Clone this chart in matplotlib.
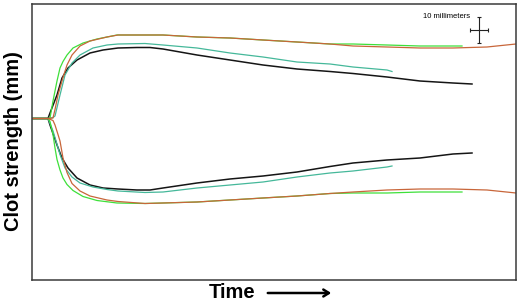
import matplotlib
matplotlib.use('Agg')
import matplotlib.pyplot as plt
from matplotlib.patches import FancyArrowPatch

# TEG tracings: time (arbitrary units), upper / lower amplitude (arbitrary units)
black_t = [1, 16, 18, 25, 30, 36, 45, 58, 71, 86, 105, 118, 131, 165, 198, 231, 265, 298, 321, 355, 388, 421, 440]
black_up = [0, 0, 5.5, 23.5, 40.5, 50.5, 58.5, 65.5, 68.5, 70.5, 71, 71, 69.5, 63.5, 58.5, 53.5, 49.5, 47, 45, 41.5, 37.5, 35.5, 34.5]
black_lo = [0, 0, -6.5, -26.5, -39.5, -49.5, -59.5, -66.5, -69.5, -70.5, -71.5, -71.5, -69.5, -64.5, -60.5, -57.5, -53.5, -48, -44.5, -41.5, -39.5, -35.5, -34.5]

teal_t = [1, 16, 21, 23, 28, 33, 40, 48, 61, 75, 86, 113, 131, 165, 198, 231, 265, 298, 321, 355, 360]
teal_up = [0, 0, 1, 2.5, 23.5, 43.5, 55.5, 63.5, 70.5, 73.5, 74.5, 75, 73.5, 70.5, 65.5, 61.5, 56.5, 54.5, 51.5, 48.5, 47]
teal_lo = [0, 0, -12.5, -19, -36, -49.5, -58.5, -64.5, -68.5, -71, -72.5, -74, -73.5, -69.5, -66.5, -63.5, -58.5, -54.5, -52.5, -48.5, -47.5]

green_t = [1, 16, 18, 21, 23, 25, 28, 31, 35, 41, 51, 65, 85, 113, 131, 165, 198, 231, 265, 298, 321, 355, 388, 430]
green_up = [0, 0, 0.5, 17.5, 27.5, 37.5, 50.5, 57, 63.5, 70.5, 75.5, 79.5, 83.5, 83.5, 83.5, 81.5, 80.5, 78.5, 76.5, 74.5, 74.5, 73.5, 72.5, 72.5]
green_lo = [0, 0, -3, -16, -29.5, -41, -51.5, -59.5, -66, -72, -78, -82, -84.5, -85, -84.5, -83.5, -81.5, -79.5, -77.5, -75, -74.5, -74.5, -73.5, -73.5]

orange_t = [1, 16, 21, 23, 26, 28, 31, 35, 40, 48, 58, 75, 86, 113, 131, 165, 198, 231, 265, 298, 321, 355, 388, 421, 455, 484]
orange_up = [0, 0, 0.5, 9, 23.5, 30.5, 41, 53.5, 63.5, 72.5, 77.5, 81.5, 83.5, 83.5, 83.5, 81.5, 80.5, 78.5, 76.5, 74.5, 72.5, 71.5, 70.5, 70.5, 71.5, 74.5]
orange_lo = [0, 0, -2, -6.5, -16, -22.5, -39.5, -54, -65, -72.5, -77.5, -81.5, -83, -85, -84.5, -83.5, -81.5, -79.5, -77.5, -75, -73.5, -71.5, -70.5, -70.5, -71.5, -74.5]

fig = plt.figure(figsize=(5.2, 3.04), dpi=100)
ax = fig.add_axes([32 / 520, 24 / 304, 484 / 520, 276 / 304])

ax.plot(black_t, black_up, color='#151515', lw=1.1)
ax.plot(black_t, black_lo, color='#151515', lw=1.1)
ax.plot(teal_t, teal_up, color='#45b89a', lw=0.9)
ax.plot(teal_t, teal_lo, color='#45b89a', lw=0.9)
ax.plot(green_t, green_up, color='#3ee03a', lw=0.9)
ax.plot(green_t, green_lo, color='#3ee03a', lw=0.9)
ax.plot(orange_t, orange_up, color='#c8663a', lw=0.9)
ax.plot(orange_t, orange_lo, color='#c8663a', lw=0.9)

# scale bar
ax.errorbar([447], [88.5], xerr=[9], yerr=[13], color='#222222', lw=0.8, capsize=1.5, capthick=0.8)
ax.text(438, 101.5, '10 millimeters', fontsize=5.5, ha='right', va='center', family='Liberation Sans')

ax.set_xlim(0, 484)
ax.set_ylim(-161.5, 114.5)
ax.set_xticks([])
ax.set_yticks([])
for s in ax.spines.values():
    s.set_color('#3a3a3a')
    s.set_linewidth(1.1)

fig.text(14 / 520, 1 - 141 / 304, 'Clot strength (mm)', rotation=90, ha='center', va='center',
         fontsize=14.5, fontweight='bold', family='Liberation Sans')
fig.text(232 / 520, 1 - 293 / 304, 'Time', ha='center', va='center',
         fontsize=14.5, fontweight='bold', family='Liberation Sans')
fig.add_artist(FancyArrowPatch((265 / 520, 1 - 293 / 304), (334 / 520, 1 - 293 / 304),
               transform=fig.transFigure, arrowstyle='->,head_length=4,head_width=2.5', lw=1.8, color='black'))

fig.savefig('out.png', dpi=100)
